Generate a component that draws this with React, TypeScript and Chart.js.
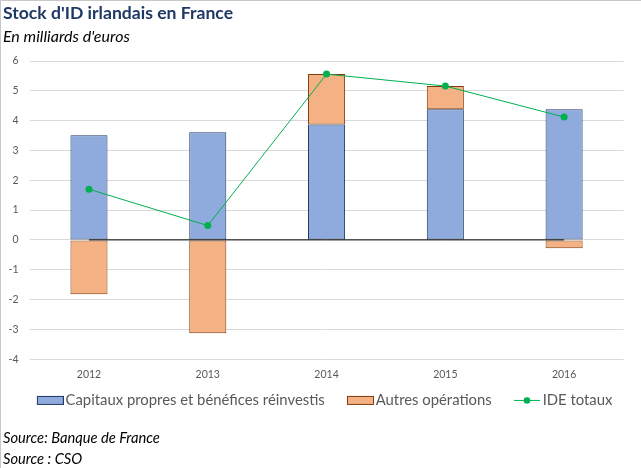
import React, { useEffect, useRef } from "react";
import { Chart, registerables } from "chart.js";

Chart.register(...registerables);

// ---- Data ----
const categories = ["2012", "2013", "2014", "2015", "2016"];
const capitauxPropres = [3.51, 3.61, 3.87, 4.38, 4.38];
const autresOperations = [-1.82, -3.13, 1.69, 0.78, -0.28];
const ideTotaux = [1.7, 0.48, 5.56, 5.16, 4.12];
const zeroLine = [0, 0, 0, 0, 0];
const yMin = -4;
const yMax = 6;
const yStep = 1;

const seriesNames = ["Capitaux propres et bénéfices réinvestis", "Autres opérations", "IDE totaux"];
const titleText = "Stock d'ID irlandais en France";
const subtitleText = "En milliards d'euros";
const sourceLines = ["Source: Banque de France", "Source : CSO"];

const FONT = "Lato, 'Open Sans', sans-serif";
const BLUE = "#8FAADC";
const BLUE_BORDER = "#1F3864";
const ORANGE = "#F4B183";
const ORANGE_BORDER = "#843C0C";
const GREEN = "#00B050";

const LEGEND_FONT = 14.85;
const LEGEND_PAD = 22;
const LEGEND_CENTER_X = 324.5;
const LEGEND_TOP = 371;

function makeSwatch(kind: "box" | "line", fill: string, stroke: string): HTMLCanvasElement {
  const c = document.createElement("canvas");
  c.width = 33;
  c.height = 13;
  const ctx = c.getContext("2d")!;
  const o = 6;
  if (kind === "box") {
    ctx.fillStyle = fill;
    ctx.fillRect(o, 2, 27, 9);
    ctx.strokeStyle = stroke;
    ctx.lineWidth = 1;
    ctx.strokeRect(o + 0.5, 2.5, 26, 8);
  } else {
    ctx.strokeStyle = stroke;
    ctx.lineWidth = 1;
    ctx.beginPath();
    ctx.moveTo(o, 6.5);
    ctx.lineTo(o + 26, 6.5);
    ctx.stroke();
    ctx.fillStyle = fill;
    ctx.beginPath();
    ctx.arc(o + 13, 6.5, 3.3, 0, Math.PI * 2);
    ctx.fill();
  }
  return c;
}

const legendPlacement = {
  id: "legendPlacement",
  afterLayout(chart: any) {
    const lg = chart.legend;
    if (!lg) return;
    const w = lg.right - lg.left;
    const h = lg.bottom - lg.top;
    lg.left = LEGEND_CENTER_X - w / 2;
    lg.right = lg.left + w;
    lg.top = LEGEND_TOP;
    lg.bottom = LEGEND_TOP + h;
  },
};

export default function App() {
  const canvasRef = useRef<HTMLCanvasElement | null>(null);

  useEffect(() => {
    if (!canvasRef.current) return;
    const swatches = [
      makeSwatch("box", BLUE, BLUE_BORDER),
      makeSwatch("box", ORANGE, ORANGE_BORDER),
      makeSwatch("line", GREEN, GREEN),
    ];
    const chart = new Chart(canvasRef.current, {
      type: "bar",
      plugins: [legendPlacement],
      data: {
        labels: categories,
        datasets: [
          {
            type: "line",
            label: "zero",
            data: zeroLine,
            borderColor: "#000000",
            borderWidth: 1,
            pointRadius: 0,
            order: 0,
            stack: "zero",
          } as any,
          {
            type: "line",
            label: seriesNames[2],
            data: ideTotaux,
            borderColor: GREEN,
            borderWidth: 1,
            pointRadius: 3.5,
            pointBackgroundColor: GREEN,
            pointBorderColor: GREEN,
            pointBorderWidth: 0,
            order: 1,
            stack: "ide",
          } as any,
          {
            type: "bar",
            label: seriesNames[0],
            data: capitauxPropres,
            backgroundColor: BLUE,
            borderColor: BLUE_BORDER,
            borderWidth: 1,
            borderSkipped: false,
            categoryPercentage: 1,
            barPercentage: 0.312,
            order: 2,
            stack: "bars",
          },
          {
            type: "bar",
            label: seriesNames[1],
            data: autresOperations,
            backgroundColor: ORANGE,
            borderColor: ORANGE_BORDER,
            borderWidth: 1,
            borderSkipped: false,
            categoryPercentage: 1,
            barPercentage: 0.312,
            order: 3,
            stack: "bars",
          },
        ],
      },
      options: {
        responsive: false,
        animation: false,
        events: [],
        layout: { padding: { left: 0, right: 0, top: 61, bottom: 40 } },
        plugins: {
          title: { display: false },
          tooltip: { enabled: false },
          legend: {
            position: "bottom",
            labels: {
              usePointStyle: true,
              pointStyleWidth: 21.5,
              padding: LEGEND_PAD,
              color: "#595959",
              font: { family: FONT, size: LEGEND_FONT },
              generateLabels: () =>
                seriesNames.map((name, i) => ({
                  text: name,
                  pointStyle: swatches[i],
                  fillStyle: "transparent",
                  strokeStyle: "transparent",
                  lineWidth: 0,
                  hidden: false,
                  datasetIndex: i,
                  fontColor: "#595959",
                })),
            },
          },
        },
        scales: {
          x: {
            stacked: true,
            grid: { display: false, drawTicks: false },
            border: { display: false },
            ticks: { color: "#595959", font: { family: FONT, size: 10.5 }, padding: 9 },
            afterFit: (s: any) => {
              s.height = 22;
            },
          },
          y: {
            stacked: true,
            min: yMin,
            max: yMax,
            ticks: { stepSize: yStep, color: "#595959", font: { family: FONT, size: 10.5 }, padding: 11 },
            grid: { color: "#D9D9D9", lineWidth: 1, drawTicks: false },
            border: { display: false },
            afterFit: (s: any) => {
              s.width = 29.6;
            },
          },
          yRightSpace: {
            position: "right",
            display: true,
            grid: { display: false, drawTicks: false },
            border: { display: false },
            ticks: { display: false },
            afterFit: (s: any) => {
              s.width = 17.5;
            },
          },
        },
      },
    });
    return () => chart.destroy();
  }, []);

  return (
    <div
      style={{
        position: "fixed",
        left: 0,
        top: 0,
        width: 641,
        height: 468,
        background: "#ffffff",
        overflow: "hidden",
        fontFamily: FONT,
      }}
    >
      <canvas ref={canvasRef} width={641} height={468} style={{ position: "absolute", left: 0, top: 0 }} />
      <div style={{ position: "absolute", left: 0, top: 0, width: 641, height: 1, background: "#C8C8C8" }} />
      <div style={{ position: "absolute", left: 0, top: 0, width: 1, height: 468, background: "#C8C8C8" }} />
      <div
        style={{
          position: "absolute",
          left: 3,
          top: 2,
          fontSize: 17.6,
          lineHeight: "22px",
          fontWeight: 700,
          color: "#1F3864",
          whiteSpace: "nowrap",
        }}
      >
        {titleText}
      </div>
      <div
        style={{
          position: "absolute",
          left: 3,
          top: 27,
          fontSize: 16,
          lineHeight: "18px",
          fontStyle: "italic",
          color: "#000000",
          whiteSpace: "nowrap",
        }}
      >
        {subtitleText}
      </div>
      {sourceLines.map((s, i) => (
        <div
          key={i}
          style={{
            position: "absolute",
            left: 3,
            top: 428 + i * 21,
            fontSize: 14.7,
            lineHeight: "18px",
            fontStyle: "italic",
            color: "#000000",
            whiteSpace: "nowrap",
          }}
        >
          {s}
        </div>
      ))}
    </div>
  );
}
